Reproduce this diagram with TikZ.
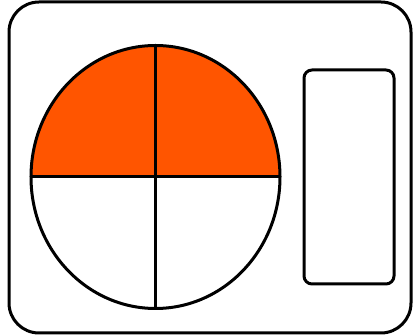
\documentclass[tikz,border=0pt]{standalone}
\definecolor{fanorange}{HTML}{FF5500}
\begin{document}
\begin{tikzpicture}[x=1pt, y=-1pt, line cap=round, line join=round]
    \def\cx{155.5}
    \def\cy{177}
    \def\rx{124.5}
    \def\ry{131.5}
    \useasboundingbox (0,0) rectangle (416,336);
    % casing
    \draw[line width=3pt, rounded corners=30pt] (9,2) rectangle (411,333);
    % fan, upper half filled
    \fill[fanorange] (\cx+\rx,\cy) arc[start angle=0, end angle=-180, x radius=\rx, y radius=\ry] -- cycle;
    \draw[line width=3pt] (\cx,\cy) ellipse[x radius=\rx, y radius=\ry];
    \draw[line width=3pt] (\cx-\rx,\cy) -- (\cx+\rx,\cy);
    \draw[line width=3pt] (\cx,\cy-\ry) -- (\cx,\cy+\ry);
    % panel
    \draw[line width=3pt, rounded corners=8pt] (304,70) rectangle (394,284);
  \end{tikzpicture}
\end{document}
